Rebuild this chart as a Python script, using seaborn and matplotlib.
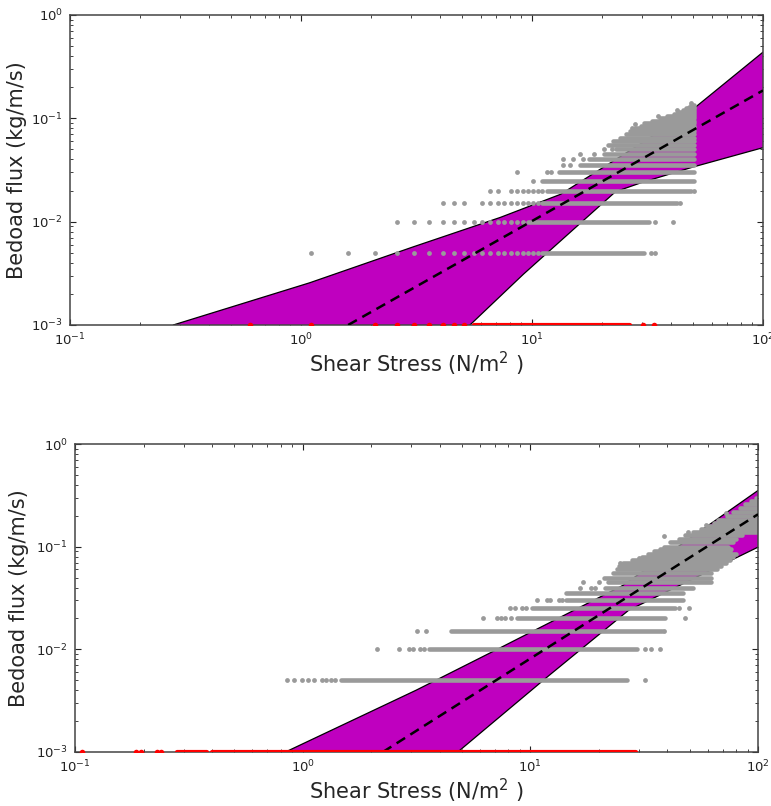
import numpy as np
import pandas as pd
import matplotlib
matplotlib.use("Agg")
import matplotlib.pyplot as plt
import seaborn as sns

# ------------------------------------------------------------------ data
X_LABEL = "Shear Stress (N/m$^2$ )"
Y_LABEL = "Bedoad flux (kg/m/s)"
ZERO_FLUX = 1e-3  # zero-flux samples shown on the lower axis

# ---------- top panel
top_upper_x = [0.28, 1.09, 3.06, 7.3, 13.3, 30.0, 50.3, 100.0]
top_upper_y = [1e-3, 2.56e-3, 5.7e-3, 1.1e-2, 1.84e-2, 0.058, 0.125, 0.437]
top_lower_x = [5.39, 9.18, 23.0, 30.0, 50.3, 100.0]
top_lower_y = [1e-3, 3.1e-3, 0.0195, 0.024, 0.034, 0.052]
top_fit_x = [1.6, 100.0]
top_fit_y = [1e-3, 0.186]

top_flux = [0.005, 0.01, 0.015, 0.02, 0.025, 0.03, 0.035, 0.04, 0.045, 0.05,
            0.055, 0.06, 0.065, 0.07, 0.075, 0.08, 0.085, 0.09, 0.095, 0.10,
            0.105, 0.11, 0.115, 0.12, 0.125, 0.13, 0.135]
top_run_start = [11.1, 9.6, 11.1, 11.6, 11.1, 13.1, 16.1, 17.6, 20.6, 23.1,
                 21.3, 22.5, 24.0, 25.5, 26.5, 28.0, 29.5, 30.5, 33.0, 36.0,
                 38.5, 41.0, 43.0, 45.0, 46.5, 48.0, 49.0]
top_run_end = [30.6, 32.2, 42.3, 48.8, 50.3, 50.3, 50.3, 50.3, 50.3, 50.3,
               50.3, 50.3, 50.3, 50.3, 50.3, 50.3, 50.3, 50.3, 50.3, 50.3,
               50.3, 50.3, 50.3, 50.3, 50.3, 50.3, 50.3]
top_iso = [
    [1.1, 1.6, 2.1, 2.6, 3.1, 3.6, 4.1, 4.6, 5.1, 5.6, 6.1, 6.6, 7.1, 7.6,
     8.1, 8.6, 9.1, 9.6, 10.1, 10.6, 32.6, 34.1],
    [2.6, 3.1, 3.6, 4.1, 4.6, 5.1, 5.6, 6.1, 6.6, 7.1, 7.6, 8.1, 8.6, 9.1,
     34.0, 40.6],
    [4.1, 4.6, 5.1, 6.1, 6.6, 7.1, 7.6, 8.1, 8.6, 9.1, 9.6, 10.1, 10.6, 43.6],
    [6.6, 7.1, 8.1, 8.6, 9.1, 9.6, 10.1, 10.6, 11.1, 50.3],
    [10.1],
    [8.6, 11.6, 12.1],
    [13.6, 14.6],
    [13.6, 15.1, 16.6],
    [16.1, 18.6],
    [20.6, 22.1],
] + [[] for _ in range(17)]
top_stray_x = [27.0, 28.0, 35.0, 42.6, 48.8]
top_stray_y = [0.080, 0.088, 0.105, 0.120, 0.140]
top_red_iso = [0.6, 1.1, 2.1, 2.6, 3.1, 3.6, 4.1, 4.6, 5.1, 30.1, 33.6]
top_red_start = [5.6]
top_red_end = [26.5]

# ---------- bottom panel
bot_upper_x = [0.84, 3.15, 7.15, 25.5, 100.0]
bot_upper_y = [1e-3, 4e-3, 1e-2, 0.042, 0.353]
bot_lower_x = [4.8, 12.0, 27.0, 100.0]
bot_lower_y = [1e-3, 5.5e-3, 0.024, 0.099]
bot_fit_x = [2.25, 100.0]
bot_fit_y = [1e-3, 0.207]

bot_flux = [0.005, 0.01, 0.015, 0.02, 0.025, 0.03, 0.035, 0.04, 0.045, 0.05,
            0.055, 0.06, 0.065, 0.07, 0.075, 0.08, 0.085, 0.09, 0.095, 0.10,
            0.11, 0.12, 0.13, 0.14, 0.15, 0.16, 0.17, 0.18, 0.20, 0.22,
            0.24, 0.26, 0.28, 0.30]
bot_run_start = [1.48, 3.57, 4.5, 8.7, 10.2, 14.4, 14.4, 21.3, 22.0, 21.0,
                 23.0, 24.0, 24.5, 25.5, 28.0, 31.0, 33.0, 35.0, 37.0, 38.5,
                 41.0, 45.0, 48.0, 52.0, 56.0, 60.0, 64.0, 67.0, 73.0, 78.0,
                 83.0, 88.0, 93.0, 98.0]
bot_run_end = [26.7, 29.5, 38.0, 39.1, 43.2, 46.6, 46.6, 52.0, 62.0, 62.0,
               62.0, 66.0, 69.0, 72.0, 75.0, 78.0, 80.0, 75.0, 76.0, 74.0,
               78.0, 80.0, 85.0, 100.0, 100.0, 100.0, 100.0, 100.0, 100.0, 100.0,
               100.0, 100.0, 100.0, 100.0]
bot_iso = [
    [0.85, 0.92, 0.99, 1.06, 1.12, 1.22, 1.27, 1.33, 1.38, 31.8],
    [2.12, 2.64, 2.93, 3.04, 3.29, 3.40, 32.0, 34.0, 37.0],
    [3.18, 3.47, 38.8],
    [6.2, 7.1, 7.4, 7.7, 8.2, 47.9],
    [8.1, 8.6, 9.2, 9.6, 45.0, 49.5],
    [10.7, 11.8, 12.2, 13.3, 13.8],
    [],
    [16.5, 18.5, 19.2],
    [17.0, 20.0],
] + [[] for _ in range(25)]
bot_stray_x = [24.8, 30.0, 38.8, 49.2, 59.0, 72.0]
bot_stray_y = [0.069, 0.078, 0.128, 0.140, 0.162, 0.211]
bot_red_iso = [0.107, 0.185, 0.195, 0.228, 0.238]
bot_red_start = [0.28, 0.40]
bot_red_end = [0.38, 29.0]

# ------------------------------------------------------------------ style
sns.set_style("ticks")
plt.rcParams["font.family"] = ["DejaVu Sans"]
plt.rcParams["mathtext.fontset"] = "dejavusans"

GRAY = "#9a9a9a"
MAGENTA = "#bf00bf"


def draw_panel(ax, ux, uy, lx, ly, fx, fy, flux, rs, re_, iso, sx, sy,
               red_iso, red_s, red_e, ylab_x):
    ax.set_xscale("log")
    ax.set_yscale("log")
    ax.set_xlim(0.1, 100)
    ax.set_ylim(1e-3, 1)

    # confidence band
    px = list(ux) + list(lx)[::-1]
    py = list(uy) + list(ly)[::-1]
    ax.fill(px, py, color=MAGENTA, lw=0, zorder=1)
    ax.plot(ux, uy, color="k", lw=0.9, zorder=1.5)
    ax.plot(lx, ly, color="k", lw=0.9, zorder=1.5)

    # dense runs of observations
    lc = ax.hlines(flux, rs, re_, colors=GRAY, linewidth=3.3, zorder=2)
    lc.set_capstyle("round")

    # isolated observations
    xs, ys = [], []
    for f, pts in zip(flux, iso):
        xs += pts
        ys += [f] * len(pts)
    xs += sx
    ys += sy
    df = pd.DataFrame({"x": xs, "y": ys})
    sns.scatterplot(data=df, x="x", y="y", color=GRAY, s=12, linewidth=0,
                    ax=ax, zorder=2)

    # fitted rating curve
    sns.lineplot(x=fx, y=fy, ax=ax, color="k", lw=1.8,
                 linestyle=(0, (4, 2.5)), zorder=4)

    # zero-flux samples
    red_df = pd.DataFrame({"x": red_iso, "y": [ZERO_FLUX] * len(red_iso)})
    sns.scatterplot(data=red_df, x="x", y="y", color="red", s=16, linewidth=0,
                    ax=ax, zorder=5)
    rl = ax.hlines([ZERO_FLUX] * len(red_s), red_s, red_e, colors="red",
                   linewidth=3.0, zorder=5)
    rl.set_capstyle("round")

    ax.tick_params(which="both", direction="in", top=True, right=True,
                   labelsize=9.5, colors="#222222")
    ax.tick_params(axis="y", pad=5)
    ax.tick_params(axis="x", pad=5)
    ax.tick_params(which="major", length=4.5, width=0.8)
    ax.tick_params(which="minor", length=2.2, width=0.6)
    for sp in ax.spines.values():
        sp.set_color("#444444")
        sp.set_linewidth(1.1)
    ax.set_xlabel(X_LABEL, fontsize=15)
    ax.set_ylabel(Y_LABEL, fontsize=15)
    ax.xaxis.set_label_coords(0.5, -0.08)
    ax.yaxis.set_label_coords(ylab_x, 0.5)


fig = plt.figure(figsize=(7.71, 8.06), dpi=100)
ax1 = fig.add_axes([0.0908, 0.5968, 0.8988, 0.3846])
ax2 = fig.add_axes([0.0973, 0.0670, 0.8859, 0.3821])

draw_panel(ax1, top_upper_x, top_upper_y, top_lower_x, top_lower_y,
           top_fit_x, top_fit_y, top_flux, top_run_start, top_run_end, top_iso,
           top_stray_x, top_stray_y, top_red_iso, top_red_start, top_red_end,
           -0.062)
draw_panel(ax2, bot_upper_x, bot_upper_y, bot_lower_x, bot_lower_y,
           bot_fit_x, bot_fit_y, bot_flux, bot_run_start, bot_run_end, bot_iso,
           bot_stray_x, bot_stray_y, bot_red_iso, bot_red_start, bot_red_end,
           -0.067)

fig.savefig("out.png", dpi=100)
